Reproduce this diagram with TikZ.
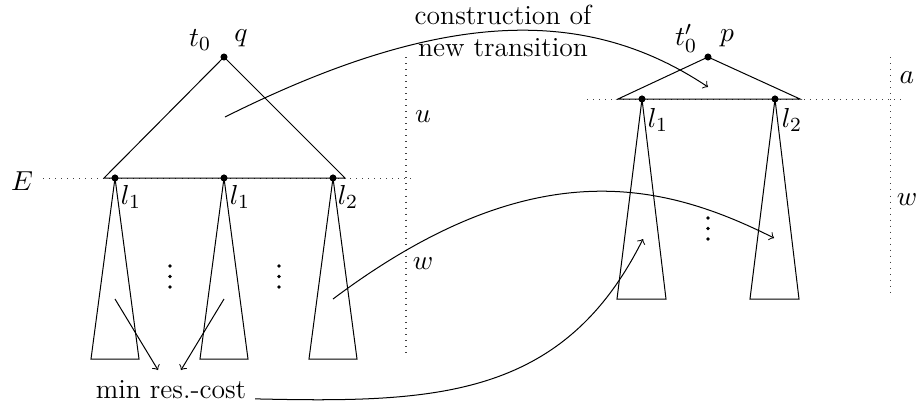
\documentclass[tikz,border=0pt]{standalone}
\usetikzlibrary{calc}
\begin{document}
\begin{tikzpicture}[
  x=0.014cm, y=-0.014cm,
  font=\fontsize{11}{13}\selectfont,
  >=to,
  dot/.style={circle, fill=black, inner sep=0pt, minimum size=2.8pt},
  pt/.style={circle, fill=black, inner sep=0pt, minimum size=1.5pt},
  tri/.style={draw=black, line join=miter},
  guide/.style={dotted, draw=black!75},
  lbl/.style={inner sep=1pt},
  link/.style={->},
]
\useasboundingbox (0,0) rectangle (918,408);

% left tree: root q and the leaves on the cut E
\node[dot] (q)  at (224,57)  {};
\node[dot] (la) at (115,178) {};
\node[dot] (lb) at (224,178) {};
\node[dot] (lc) at (333,178) {};

\node[lbl] (t0)  at (200,40) {$t_0$};
\node[lbl] (qn)  at (241,38) {$q$};
\node[lbl] (la1) at (131,197) {$l_1$};
\node[lbl] (lb1) at (240,197) {$l_1$};
\node[lbl] (lc2) at (348,197) {$l_2$};
\node[lbl] (E)   at (22,181) {$E$};

% right tree: root p
\node[dot] (p)  at (708,57) {};
\node[dot] (ra) at (642,99) {};
\node[dot] (rb) at (775,99) {};

\node[lbl] (t0p) at (686,38) {$t'_0$};
\node[lbl] (pn)  at (727,38) {$p$};
\node[lbl] (ra1) at (658,120) {$l_1$};
\node[lbl] (rb2) at (792,120) {$l_2$};

% guides
\draw[guide] (43,178) -- (413,178);
\draw[guide] (406,57) -- (406,357);
\draw[guide] (587,99) -- (902,99);
\draw[guide] (890,57) -- (890,295);
\node[lbl] (u)  at (423,117) {$u$};
\node[lbl] (wl) at (423,264) {$w$};
\node[lbl] (a)  at (907,78)  {$a$};
\node[lbl] (wr) at (907,200) {$w$};

% triangles
\draw[tri] (104,178) -- (q.center) -- (345,178) -- cycle;
\foreach \n/\x in {la/115, lb/224, lc/333}
  \draw[tri] (\n.center) -- (\x-24,359) -- (\x+24,359) -- cycle;
\draw[tri] (618,99) -- (p.center) -- (800,99) -- cycle;
\foreach \n/\x in {ra/642, rb/775}
  \draw[tri] (\n.center) -- (\x-25,299) -- (\x+24,299) -- cycle;

% dots between the subtrees
\foreach \x/\y in {170/266, 279/266, 708/218}
  \foreach \k in {0,1,2}
    \node[pt] at (\x,\y+10.5*\k) {};

% texts
\node[align=center] (ct) at (503,31) {construction of\\new transition};
\node (mc) at (171,390) {min res.-cost};

% connector ends
\coordinate (inA)  at (225,117);
\coordinate (outA) at (708,87);
\coordinate (inC)  at (333,299);
\coordinate (outC) at (774,238);
\coordinate (outB) at (643,239);
\coordinate (fa)   at (115,299);
\coordinate (fb)   at (224,299);
\coordinate (ma)   at (158,370);
\coordinate (mb)   at (181,370);

% arrows
\draw[link] (fa) -- (ma);
\draw[link] (fb) -- (mb);
\draw[link] (inA) .. controls (445,7) and (588,7) .. (outA);
\draw[link] (inC) .. controls (533,149) and (664,183) .. (outC);
\draw[link] (mc.base east) .. controls (435,403) and (563,399) .. (outB);

\end{tikzpicture}
\end{document}
